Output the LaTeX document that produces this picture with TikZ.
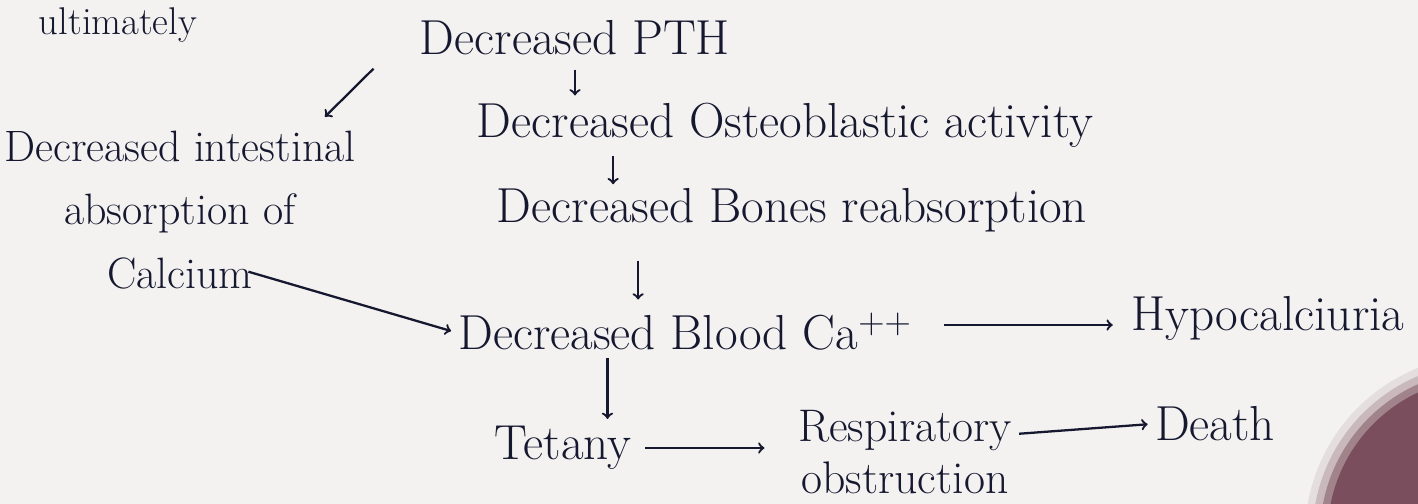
\documentclass[tikz,border=0pt]{standalone}
\usepackage{xcolor}
\usetikzlibrary{calc,arrows}
\definecolor{ink}{RGB}{22,24,48}
\definecolor{paper}{RGB}{243,242,240}
\definecolor{blob}{RGB}{122,78,92}

\begin{document}
\begin{tikzpicture}[x=0.02cm, y=-0.02cm,
    txt/.style={font=\fontsize{28}{32}\selectfont, text=ink, inner sep=2pt},
    flow/.style={->, ink, line width=1.3pt, shorten >=2pt, shorten <=2pt},
    >=to]

  \useasboundingbox (0,0) rectangle (1418,504);
  \clip (0,0) rectangle (1418,504);
  \fill[paper] (0,0) rectangle (1418,504);

  % finger shadow in the corner
  \foreach \r/\o in {3.6/0.12, 3.45/0.25, 3.3/0.5, 3.15/1}
    \fill[blob, opacity=\o] (1485,535) circle (\r cm);

  \node[txt, font=\fontsize{22}{26}\selectfont, anchor=base, inner sep=1pt] (ult) at (118,34) {ultimately};
  \node[txt] (pth) at (575,38) {Decreased PTH};
  \node[txt] (osteo) at (785,125) {Decreased Osteoblastic activity};
  \node[txt] (bones) at (792,210) {Decreased Bones reabsorption};
  \node[txt] (blood) at (685,332) {Decreased Blood Ca$^{++}$};
  \node[txt] (hypo) at (1268,318) {Hypocalciuria};
  \node[txt] (tetany) at (563,448) {Tetany};
  \node[txt, align=center, font=\fontsize{26}{30}\selectfont] (resp) at (905,452) {Respiratory\\obstruction};
  \node[txt] (death) at (1215,424) {Death};
  \node[txt, align=center, font=\fontsize{25}{36}\selectfont] (intest) at (180,210)
    {Decreased intestinal\\absorption of\\Calcium};

  \draw[flow] ($(pth.south west)+(-40,7)$) -- ($(intest.north east)+(-37,-8)$);
  \draw[flow, shorten <=6pt] (pth.south) -- (pth.south |- osteo.north);
  \draw[flow, shorten <=3pt, shorten >=0pt] ($(osteo.south west)+(140,0)$) -- ($(osteo.south west |- bones.north)+(140,0)$);
  \draw[flow, shorten <=0.5cm, shorten >=0.2cm] ($(bones.south west)+(145,0)$) -- ($(bones.south west |- blood.north)+(145,0)$);
  \draw[flow] ($(intest.south)+(65,-22)$) -- (blood.west);
  \draw[flow] ($(blood.south west)+(153,0)$) -- ($(blood.south west |- tetany.north)+(153,0)$);
  \draw[flow, shorten >=0.3cm] ($(blood.east)+(25,-7)$) -- ($(blood.east -| hypo.west)+(0,-7)$);
  \draw[flow, shorten <=0.2cm, shorten >=0.6cm] (tetany.east) -- (tetany.east -| resp.west);
  \draw[flow] ($(resp.east)+(0,-18)$) -- (death.west);
\end{tikzpicture}
\end{document}
